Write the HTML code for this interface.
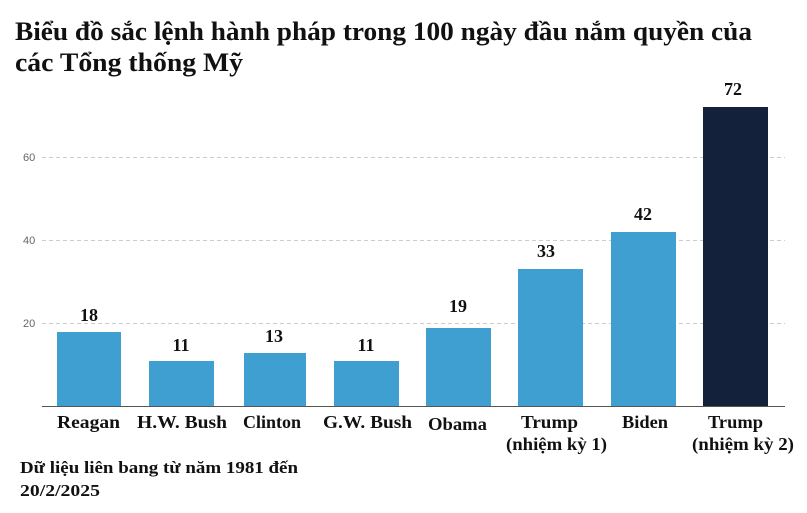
<!DOCTYPE html>
<html><head><meta charset="utf-8"><style>
body{margin:0;background:#fff;width:807px;height:513px;overflow:hidden}
svg{display:block}
.t{font-family:"Liberation Serif",serif;font-weight:bold;fill:#111}
.ax{font-family:"Liberation Sans",sans-serif;font-size:11px;fill:#666}
</style></head><body>
<svg width="807" height="513" viewBox="0 0 807 513">
<text class="t" x="15" y="40" font-size="26" textLength="737" lengthAdjust="spacingAndGlyphs">Biểu đồ sắc lệnh hành pháp trong 100 ngày đầu nắm quyền của</text>
<text class="t" x="15" y="71" font-size="26" textLength="228" lengthAdjust="spacingAndGlyphs">các Tổng thống Mỹ</text>
<g stroke="#ccc" stroke-dasharray="4,3" stroke-width="1">
<line x1="42" x2="785" y1="157.5" y2="157.5"/>
<line x1="42" x2="785" y1="240.5" y2="240.5"/>
<line x1="42" x2="785" y1="323.5" y2="323.5"/>
</g>
<text class="ax" x="23" y="161">60</text>
<text class="ax" x="23" y="244">40</text>
<text class="ax" x="23" y="327">20</text>
<g fill="#3e9fd0">
<rect x="57" y="332" width="64" height="75"/>
<rect x="149" y="361" width="65" height="46"/>
<rect x="244" y="353" width="62" height="54"/>
<rect x="334" y="361" width="65" height="46"/>
<rect x="426" y="328" width="65" height="79"/>
<rect x="518" y="269" width="65" height="138"/>
<rect x="611" y="232" width="65" height="175"/>
</g>
<rect x="703" y="107" width="65" height="300" fill="#13213b"/>
<line x1="42" x2="785" y1="406.5" y2="406.5" stroke="#555" stroke-width="1"/>
<g class="t" font-size="18" text-anchor="middle">
<text x="89" y="321">18</text>
<text x="181" y="351">11</text>
<text x="274" y="342">13</text>
<text x="366" y="351">11</text>
<text x="458" y="312">19</text>
<text x="546" y="257">33</text>
<text x="643" y="220">42</text>
<text x="733" y="95">72</text>
</g>
<g class="t" font-size="18">
<text x="57" y="428" textLength="63" lengthAdjust="spacingAndGlyphs">Reagan</text>
<text x="137" y="428" textLength="90" lengthAdjust="spacingAndGlyphs">H.W. Bush</text>
<text x="243" y="428" textLength="58" lengthAdjust="spacingAndGlyphs">Clinton</text>
<text x="323" y="428" textLength="89" lengthAdjust="spacingAndGlyphs">G.W. Bush</text>
<text x="428" y="430" textLength="59" lengthAdjust="spacingAndGlyphs">Obama</text>
<text x="521" y="428" textLength="57" lengthAdjust="spacingAndGlyphs">Trump</text>
<text x="506" y="450" textLength="101" lengthAdjust="spacingAndGlyphs">(nhiệm kỳ 1)</text>
<text x="622" y="428" textLength="46" lengthAdjust="spacingAndGlyphs">Biden</text>
<text x="708" y="428" textLength="55" lengthAdjust="spacingAndGlyphs">Trump</text>
<text x="692" y="450" textLength="102" lengthAdjust="spacingAndGlyphs">(nhiệm kỳ 2)</text>
</g>
<text class="t" x="20" y="473" font-size="17" textLength="278" lengthAdjust="spacingAndGlyphs">Dữ liệu liên bang từ năm 1981 đến</text>
<text class="t" x="20" y="496" font-size="17" textLength="80" lengthAdjust="spacingAndGlyphs">20/2/2025</text>
</svg>
</body></html>
